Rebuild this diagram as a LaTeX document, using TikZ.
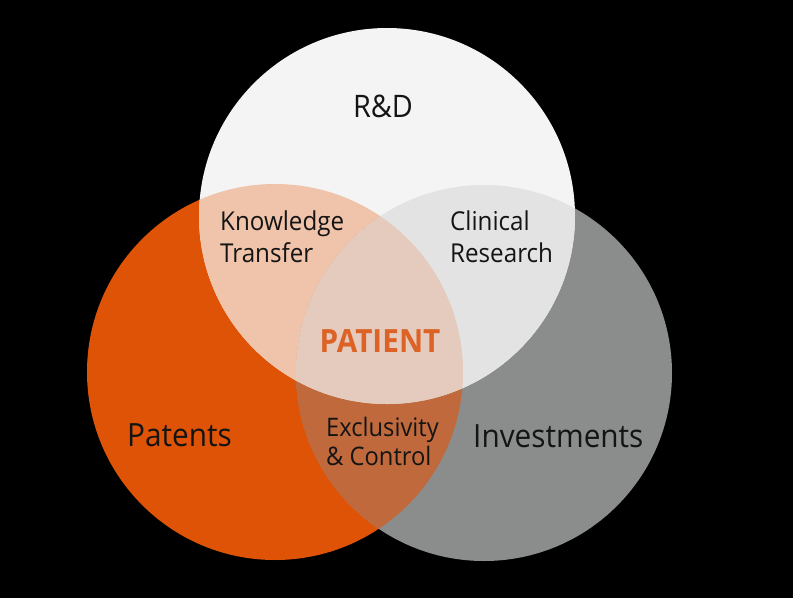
\documentclass[tikz,border=0pt]{standalone}
\usepackage{fontspec}
\setmainfont{Open Sans}[FakeStretch=0.93]
\definecolor{corange}{HTML}{DF5307}
\definecolor{cgray}{HTML}{8B8D8C}
\definecolor{cwhite}{HTML}{F4F4F4}
\definecolor{cpeach}{HTML}{EFC4AA}
\definecolor{clgray}{HTML}{E3E3E3}
\definecolor{cbrown}{HTML}{C0693C}
\definecolor{ccenter}{HTML}{E5CBBD}
\definecolor{cpatient}{HTML}{DC6226}
\definecolor{ctext}{HTML}{141414}
\begin{document}
\begin{tikzpicture}[x=1pt,y=-1pt,
  lbl/.style={inner sep=0pt, text=ctext, align=left},
  big/.style={lbl, font=\fontsize{32}{38}\selectfont},
  small/.style={lbl, font=\fontsize{26}{31.5}\selectfont}]
\fill[black] (0,0) rectangle (793,598);
\useasboundingbox (0,0) rectangle (793,598);
\def\Ocirc{(275,372) circle[radius=188pt]}
\def\Gcirc{(484,373) circle[radius=188pt]}
\def\Wcirc{(387,216) circle[radius=188pt]}
\fill[corange] \Ocirc;
\fill[cgray] \Gcirc;
\fill[cwhite] \Wcirc;
\begin{scope}
  \clip \Ocirc;
  \fill[cpeach] \Wcirc;
  \fill[cbrown] \Gcirc;
\end{scope}
\begin{scope}
  \clip \Wcirc;
  \fill[clgray] \Gcirc;
\end{scope}
\begin{scope}
  \clip \Ocirc;
  \clip \Wcirc;
  \fill[ccenter] \Gcirc;
\end{scope}
\node[lbl, font=\fontsize{31}{37}\selectfont, anchor=base] (rd) at (383,117) {R\&D};
\node[small, anchor=base west] (kt) at (220,262) {Knowledge\\Transfer};
\node[small, anchor=base west] (cr) at (450,262) {Clinical\\Research};
\node[lbl, text=cpatient, font=\fontsize{32}{38}\selectfont\bfseries, anchor=base] (pt) at (380,352) {PATIENT};
\node[lbl, font=\fontsize{25.5}{28.5}\selectfont, anchor=base west] (ex) at (326,465) {Exclusivity\\\&~Control};
\node[big, anchor=base west] (pa) at (127,446) {Patents};
\node[big, anchor=base west] (in) at (473,447) {Investments};
\end{tikzpicture}
\end{document}
